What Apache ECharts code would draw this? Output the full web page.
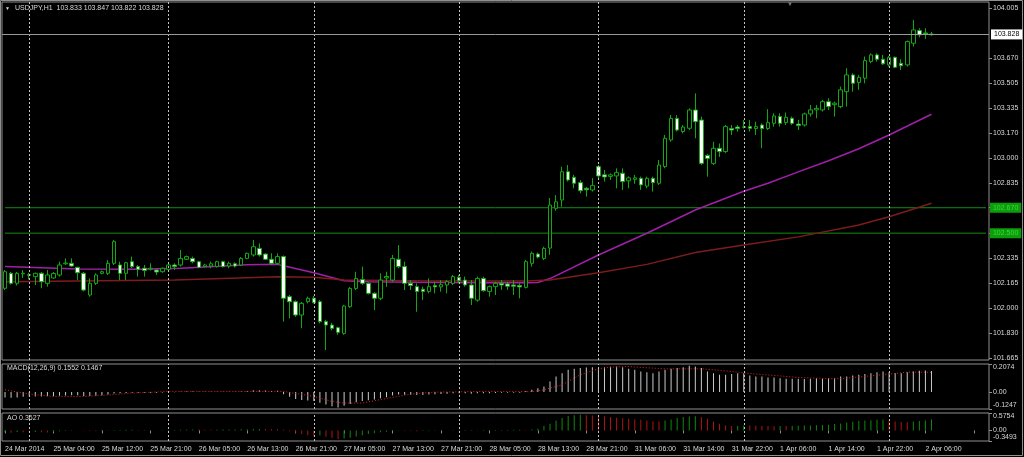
<!DOCTYPE html>
<html><head><meta charset="utf-8">
<script src="https://cdn.jsdelivr.net/npm/echarts@6.0.0/dist/echarts.min.js"></script>
<style>html,body{margin:0;padding:0;background:#000;overflow:hidden}#c{width:1024px;height:457px}</style>
</head><body><div id="c"></div>
<script>
// ---------- categories (H1 bars) ----------
const sessions = [['24 Mar',20,23,[]],['25 Mar',0,23,[17]],['26 Mar',0,23,[]],['27 Mar',0,23,[]],['28 Mar',0,22,[]],['31 Mar',0,23,[]],['1 Apr',0,23,[]],['2 Apr',0,7,[]]];
const times = [];
sessions.forEach(s => { for (let h = s[1]; h <= s[2]; h++) { if (s[3].indexOf(h) < 0) times.push(s[0] + ' ' + String(h).padStart(2,'0') + ':00'); } });
const tickLabels = ['24 Mar 2014','25 Mar 04:00','25 Mar 12:00','25 Mar 21:00','26 Mar 05:00','26 Mar 13:00','26 Mar 21:00','27 Mar 05:00','27 Mar 13:00','27 Mar 21:00','28 Mar 05:00','28 Mar 13:00','28 Mar 21:00','31 Mar 06:00','31 Mar 14:00','31 Mar 22:00','1 Apr 06:00','1 Apr 14:00','1 Apr 22:00','2 Apr 06:00'];

// ---------- price data ----------
const opens = [102.131,102.231,102.164,102.228,102.222,102.209,102.231,102.164,102.200,102.220,
102.295,102.298,102.271,102.231,102.086,102.164,102.231,102.231,102.298,102.287,
102.231,102.309,102.276,102.265,102.260,102.253,102.242,102.258,102.287,102.287,
102.325,102.331,102.309,102.276,102.280,102.276,102.309,102.280,102.295,102.287,
102.331,102.354,102.398,102.360,102.325,102.298,102.343,102.075,102.041,101.952,
102.041,102.064,102.041,101.908,101.885,101.867,101.829,102.008,102.130,102.190,
102.164,102.097,102.064,102.200,102.186,102.325,102.276,102.164,102.142,102.125,
102.110,102.150,102.140,102.153,102.164,102.204,102.186,102.153,102.052,102.197,
102.110,102.142,102.164,102.160,102.153,102.150,102.137,102.298,102.360,102.331,
102.400,102.666,102.722,102.911,102.874,102.838,102.800,102.789,102.945,102.890,
102.880,102.883,102.901,102.850,102.860,102.867,102.815,102.867,102.834,102.945,
103.124,103.268,103.180,103.202,103.324,103.257,103.020,102.967,103.068,103.046,
103.200,103.210,103.208,103.213,103.200,103.224,103.200,103.235,103.280,103.240,
103.269,103.230,103.224,103.298,103.325,103.325,103.380,103.360,103.347,103.447,
103.559,103.508,103.537,103.649,103.693,103.664,103.626,103.677,103.637,103.626,
103.771,103.856,103.840,103.833];
const highs = [102.253,102.240,102.240,102.253,102.235,102.236,102.240,102.253,102.240,102.309,
102.331,102.331,102.275,102.240,102.197,102.231,102.250,102.320,102.454,102.309,
102.309,102.343,102.287,102.287,102.298,102.258,102.270,102.298,102.298,102.387,
102.350,102.343,102.315,102.295,102.309,102.315,102.315,102.309,102.305,102.340,
102.370,102.454,102.432,102.365,102.365,102.365,102.350,102.086,102.050,102.040,
102.075,102.080,102.052,101.920,101.900,101.874,102.020,102.140,102.242,102.276,
102.170,102.105,102.231,102.242,102.354,102.420,102.309,102.186,102.164,102.142,
102.197,102.175,102.186,102.186,102.220,102.220,102.209,102.186,102.209,102.209,
102.150,102.175,102.186,102.175,102.186,102.164,102.320,102.376,102.370,102.409,
102.735,102.755,102.945,102.956,102.890,102.856,102.810,102.868,102.956,102.923,
102.900,102.934,102.934,102.880,102.890,102.878,102.878,102.878,102.990,103.157,
103.291,103.290,103.224,103.335,103.436,103.280,103.030,103.112,103.100,103.224,
103.224,103.224,103.257,103.257,103.246,103.235,103.330,103.302,103.302,103.307,
103.280,103.258,103.307,103.358,103.358,103.392,103.403,103.380,103.481,103.604,
103.570,103.559,103.682,103.704,103.704,103.693,103.686,103.682,103.664,103.789,
103.927,103.871,103.871,103.847];
const lows = [102.119,102.155,102.150,102.200,102.190,102.153,102.131,102.142,102.195,102.209,
102.287,102.276,102.186,102.110,102.075,102.153,102.225,102.220,102.287,102.186,
102.186,102.265,102.209,102.209,102.250,102.220,102.235,102.253,102.253,102.276,
102.320,102.298,102.265,102.270,102.265,102.270,102.270,102.265,102.270,102.280,
102.325,102.343,102.343,102.320,102.287,102.287,101.908,101.930,101.940,101.863,
102.030,102.030,101.896,101.718,101.850,101.820,101.820,102.000,102.119,102.153,
102.090,101.985,102.052,102.140,102.175,102.265,102.119,102.119,101.974,102.052,
102.097,102.097,102.108,102.097,102.153,102.164,102.142,102.019,102.041,102.108,
102.075,102.086,102.120,102.120,102.086,102.064,102.130,102.276,102.330,102.320,
102.355,102.650,102.677,102.845,102.800,102.767,102.744,102.778,102.868,102.845,
102.856,102.800,102.789,102.800,102.830,102.789,102.800,102.778,102.822,102.934,
103.112,103.180,103.168,103.190,103.135,102.956,102.878,102.956,103.010,103.035,
103.157,103.180,103.200,103.180,103.157,103.068,103.190,103.213,103.213,103.224,
103.224,103.190,103.213,103.280,103.269,103.314,103.325,103.280,103.336,103.347,
103.447,103.459,103.503,103.637,103.648,103.626,103.615,103.604,103.592,103.615,
103.749,103.811,103.800,103.822];
const closes = [102.242,102.164,102.231,102.232,102.218,102.231,102.175,102.220,102.230,102.287,
102.300,102.280,102.235,102.119,102.164,102.220,102.242,102.298,102.443,102.231,
102.302,102.276,102.258,102.250,102.265,102.240,102.265,102.287,102.276,102.331,
102.343,102.309,102.271,102.287,102.295,102.309,102.276,102.298,102.280,102.331,
102.365,102.409,102.354,102.325,102.298,102.343,102.064,102.041,101.952,102.030,
102.064,102.035,101.908,101.885,101.863,101.836,102.012,102.130,102.197,102.164,
102.097,102.064,102.186,102.210,102.331,102.276,102.164,102.150,102.110,102.110,
102.142,102.140,102.155,102.175,102.209,102.182,102.153,102.064,102.197,102.115,
102.142,102.164,102.153,102.145,102.145,102.140,102.309,102.365,102.340,102.398,
102.688,102.710,102.911,102.856,102.834,102.784,102.790,102.818,102.883,102.876,
102.890,102.905,102.845,102.870,102.870,102.823,102.867,102.838,102.956,103.135,
103.268,103.190,103.210,103.324,103.246,102.967,103.000,103.068,103.046,103.213,
103.190,103.200,103.212,103.202,103.213,103.200,103.240,103.284,103.235,103.275,
103.235,103.220,103.298,103.325,103.335,103.380,103.347,103.370,103.459,103.559,
103.503,103.543,103.655,103.693,103.664,103.633,103.677,103.610,103.620,103.782,
103.860,103.827,103.835,103.828];

// moving averages: [bar index, value]
const maFast = [[0,102.276],[12,102.260],[22,102.258],[29,102.265],[40,102.289],[45,102.291],[46,102.282],[51,102.235],[56,102.182],[60,102.175],[68,102.171],[78,102.168],[86,102.168],[88,102.170],[90,102.196],[98,102.354],[106,102.499],[114,102.655],[122,102.780],[126,102.834],[131,102.910],[136,102.985],[141,103.065],[146,103.157],[153,103.296]];
const maSlow = [[0,102.175],[16,102.182],[28,102.186],[45,102.209],[51,102.205],[56,102.186],[70,102.180],[86,102.180],[90,102.186],[98,102.235],[106,102.291],[114,102.370],[122,102.420],[131,102.475],[141,102.555],[146,102.610],[153,102.700]];

// MACD(12,26,9)
const macdMain = [-0.040,-0.042,-0.040,-0.035,-0.033,-0.032,-0.032,-0.031,-0.030,-0.027,
-0.025,-0.024,-0.024,-0.028,-0.028,-0.026,-0.024,-0.018,-0.010,-0.009,
-0.006,-0.005,-0.005,-0.005,-0.004,-0.004,-0.003,-0.002,-0.002,0.002,
0.004,0.004,0.002,0.002,0.002,0.003,0.002,0.002,0.002,0.004,
0.008,0.013,0.014,0.012,0.009,0.010,-0.015,-0.035,-0.050,-0.058,
-0.062,-0.066,-0.078,-0.092,-0.104,-0.113,-0.100,-0.088,-0.074,-0.066,
-0.060,-0.055,-0.045,-0.038,-0.025,-0.018,-0.020,-0.020,-0.022,-0.021,
-0.018,-0.016,-0.014,-0.012,-0.009,-0.008,-0.008,-0.013,-0.008,-0.009,
-0.008,-0.006,-0.005,-0.005,-0.005,-0.005,0.008,0.017,0.029,0.042,
0.079,0.116,0.140,0.165,0.172,0.177,0.182,0.184,0.177,0.184,
0.187,0.189,0.184,0.172,0.165,0.152,0.147,0.140,0.152,0.165,
0.172,0.177,0.184,0.194,0.189,0.177,0.152,0.140,0.128,0.128,
0.133,0.140,0.140,0.123,0.116,0.116,0.108,0.108,0.103,0.098,
0.098,0.098,0.096,0.098,0.103,0.098,0.103,0.103,0.116,0.116,
0.123,0.128,0.133,0.140,0.147,0.152,0.147,0.140,0.140,0.147,
0.152,0.157,0.160,0.1552];
const macdSignal = [[0,0.017],[3,-0.007],[5,-0.020],[8,-0.032],[13,-0.032],[16,-0.025],[21,-0.007],[27,0.005],[46,0.005],[51,-0.032],[54,-0.069],[56,-0.081],[59,-0.081],[61,-0.064],[64,-0.039],[67,-0.015],[71,0.000],[80,0.005],[87,0.003],[89,0.017],[92,0.054],[95,0.128],[98,0.172],[100,0.184],[103,0.189],[105,0.182],[109,0.172],[115,0.172],[117,0.165],[120,0.152],[124,0.133],[127,0.123],[131,0.108],[137,0.098],[139,0.103],[142,0.116],[146,0.133],[149,0.147],[153,0.1467]];

// Awesome Oscillator
const ao = [-0.06,-0.08,-0.05,-0.06,-0.07,-0.05,-0.06,-0.07,-0.05,-0.03,
-0.02,-0.01,0.0,-0.01,-0.02,-0.03,-0.02,-0.01,0.01,0.015,
0.02,0.02,0.015,0.01,0.005,0.0,0.005,0.01,0.015,0.02,
0.025,0.03,0.028,0.026,0.024,0.025,0.027,0.03,0.032,0.035,
0.04,0.045,0.048,0.045,0.042,0.04,0.02,-0.03,-0.08,-0.12,
-0.16,-0.19,-0.17,-0.21,-0.25,-0.28,-0.27,-0.24,-0.2,-0.16,
-0.12,-0.09,-0.06,-0.04,-0.02,-0.01,-0.015,-0.02,-0.025,-0.02,
-0.015,-0.01,-0.005,0,0.005,0.01,0.012,0.01,0.008,0.01,
0.012,0.014,0.016,0.018,0.02,0.02,0.01,0.03,0.055,0.143,
0.22,0.33,0.407,0.473,0.50,0.52,0.50,0.495,0.473,0.462,
0.44,0.418,0.40,0.385,0.37,0.352,0.33,0.30,0.297,0.33,
0.363,0.407,0.44,0.462,0.47,0.44,0.385,0.297,0.22,0.165,
0.143,0.15,0.165,0.16,0.155,0.15,0.143,0.14,0.15,0.145,
0.15,0.155,0.16,0.165,0.17,0.175,0.19,0.21,0.23,0.26,
0.285,0.31,0.33,0.34,0.35,0.36,0.33,0.297,0.275,0.27,
0.297,0.31,0.33,0.3627];

// axis ticks and levels
const priceTicks = [104.005,103.670,103.505,103.335,103.170,103.000,102.835,102.670,102.500,102.335,102.165,102.000,101.830,101.665];
const priceRange = [101.651,104.047];
const macdTicks = [0.2074,0,-0.1247];
const aoTicks = [0.5754,0,-0.3493];
const lastPrice = 103.828;
const levels = [102.670,102.500];
const header = 'USDJPY,H1  103.833 103.847 103.822 103.828';
const macdTitle = 'MACD(12,26,9) 0.1552 0.1467';
const aoTitle = 'AO 0.3627';

// ---------- build ----------
const PAD = 9;
const cats = times.concat(Array.from({length: PAD}, (_, k) => '_' + k));
const midnights = times.filter(t => t.endsWith(' 00:00'));
const FONT = 'Liberation Sans';
const TXT = '#d9d9d9';
const GREEN = '#12a812';
const frameC = '#8f8f8f';
const dotted = {color: '#c4c4c4', type: [2, 2], width: 1};
const vLines = midnights.map(t => ({xAxis: t, lineStyle: dotted, label: {show: false}}));

const baseX = (gi) => ({type: 'category', gridIndex: gi, data: cats, boundaryGap: true,
  axisLine: {show: false}, axisTick: {show: false}, axisLabel: {show: false}, splitLine: {show: false}});

function sideLabels(ticks, digits) {
  const mx = Math.max(...ticks), mn = Math.min(...ticks);
  return {
    customValues: ticks, fontSize: 7, color: TXT, fontFamily: FONT, margin: 4,
    formatter: v => {
      const s = v === 0 ? '0.00' : v.toFixed(digits);
      if (v === mx) return '{t|' + s + '}';
      if (v === mn) return '{b|' + s + '}';
      return s;
    },
    rich: {
      t: {fontSize: 7, color: TXT, fontFamily: FONT, padding: [7, 0, 0, 0]},
      b: {fontSize: 7, color: TXT, fontFamily: FONT, padding: [0, 0, 7, 0]}
    }
  };
}

const xLabel = Object.assign(baseX(2), {
  axisTick: {show: true, interval: 7, alignWithLabel: true, length: 3, lineStyle: {color: frameC}},
  axisLabel: {show: true, interval: 7, align: 'left', margin: 5, fontSize: 7, color: TXT, fontFamily: FONT,
    formatter: (v, idx) => (idx % 8 === 0 && tickLabels[idx / 8]) ? tickLabels[idx / 8] : ''}
});

const levelSeries = levels.map(l => ({
  type: 'line', xAxisIndex: 0, yAxisIndex: 0, silent: true, showSymbol: false, z: 1,
  data: [[0, l], [cats.length - 1, l]],
  lineStyle: {color: '#0f8f0f', width: 1},
  endLabel: {show: true, distance: 4, formatter: () => l.toFixed(3), backgroundColor: '#0c9c0c', color: '#38dc38',
    padding: [2, 3, 1, 3], fontSize: 7, fontFamily: FONT}
}));

const option = {
  backgroundColor: '#000',
  animation: false,
  title: [
    {text: '\u25BC', left: 5, top: 6, padding: 0, textStyle: {fontSize: 5, color: TXT, fontWeight: 'normal'}},
    {text: header, left: 15, top: 5, padding: 0, textStyle: {fontSize: 7, color: TXT, fontWeight: 'normal', fontFamily: FONT}},
    {text: '\u25BC', left: 787, top: 1, padding: 0, textStyle: {fontSize: 6, color: '#7a7a7a', fontWeight: 'normal'}},
    {text: macdTitle, left: 7, top: 365, padding: 0, textStyle: {fontSize: 7, color: TXT, fontWeight: 'normal', fontFamily: FONT}},
    {text: aoTitle, left: 7, top: 415, padding: 0, textStyle: {fontSize: 7, color: TXT, fontWeight: 'normal', fontFamily: FONT}}
  ],
  graphic: [{type: 'rect', silent: true, shape: {x: 0.5, y: 0.5, width: 1022, height: 455}, style: {fill: null, stroke: frameC, lineWidth: 1}}],
  grid: [
    {left: 2, top: 2, width: 987, height: 358, show: true, borderColor: frameC, borderWidth: 1, backgroundColor: '#000'},
    {left: 2, top: 364, width: 987, height: 45, show: true, borderColor: frameC, borderWidth: 1, backgroundColor: '#000'},
    {left: 2, top: 413, width: 987, height: 28, show: true, borderColor: frameC, borderWidth: 1, backgroundColor: '#000'}
  ],
  xAxis: [baseX(0), baseX(1), xLabel],
  yAxis: [
    {type: 'value', gridIndex: 0, position: 'right', min: priceRange[0], max: priceRange[1],
      axisLine: {show: false}, splitLine: {show: false},
      axisTick: {show: true, length: 3, customValues: priceTicks, lineStyle: {color: frameC}},
      axisLabel: {customValues: priceTicks, formatter: v => v.toFixed(3), fontSize: 7, color: TXT, fontFamily: FONT, margin: 4}},
    {type: 'value', gridIndex: 1, position: 'right', min: macdTicks[2], max: macdTicks[0],
      axisLine: {show: false}, splitLine: {show: false},
      axisTick: {show: true, length: 3, customValues: macdTicks, lineStyle: {color: frameC}},
      axisLabel: sideLabels(macdTicks, 4)},
    {type: 'value', gridIndex: 2, position: 'right', min: aoTicks[2], max: aoTicks[0],
      axisLine: {show: false}, splitLine: {show: false},
      axisTick: {show: true, length: 3, customValues: aoTicks, lineStyle: {color: frameC}},
      axisLabel: sideLabels(aoTicks, 4)}
  ],
  series: levelSeries.concat([
    {type: 'candlestick', xAxisIndex: 0, yAxisIndex: 0, barWidth: 4, silent: true, z: 3,
      data: opens.map((o, i) => [o, closes[i], lows[i], highs[i]]),
      itemStyle: {color: '#000', color0: '#fff', borderColor: GREEN, borderColor0: GREEN, borderWidth: 1},
      markLine: {silent: true, symbol: ['none', 'none'], animation: false, label: {show: false},
        data: vLines.concat([
          {yAxis: lastPrice, lineStyle: {color: '#9a9a9a', type: 'solid', width: 1},
            label: {show: true, position: 'end', distance: 2, formatter: lastPrice.toFixed(3), backgroundColor: '#fff', color: '#000', padding: [2, 3, 1, 3], fontSize: 7, fontFamily: FONT}}
        ])
      }},
    {type: 'line', xAxisIndex: 0, yAxisIndex: 0, data: maFast, showSymbol: false, silent: true, z: 2,
      lineStyle: {color: '#a020a8', width: 1.5}},
    {type: 'line', xAxisIndex: 0, yAxisIndex: 0, data: maSlow, showSymbol: false, silent: true, z: 2,
      lineStyle: {color: '#7c1c1c', width: 1.5}},
    {type: 'bar', xAxisIndex: 1, yAxisIndex: 1, data: macdMain, barWidth: 1, silent: true,
      itemStyle: {color: '#cacaca'},
      markLine: {silent: true, symbol: ['none', 'none'], label: {show: false}, data: vLines}},
    {type: 'line', xAxisIndex: 1, yAxisIndex: 1, data: macdSignal, showSymbol: false, silent: true,
      lineStyle: {color: '#e02424', width: 1, type: [1, 2]}},
    {type: 'bar', xAxisIndex: 2, yAxisIndex: 2, barWidth: 1, silent: true,
      data: ao.map((v, i) => ({value: v, itemStyle: {color: (i > 0 && v < ao[i - 1]) ? '#b01414' : '#0e8a0e'}})),
      markLine: {silent: true, symbol: ['none', 'none'], label: {show: false}, data: vLines}}
  ])
};
echarts.init(document.getElementById('c')).setOption(option);
</script>
</body></html>
